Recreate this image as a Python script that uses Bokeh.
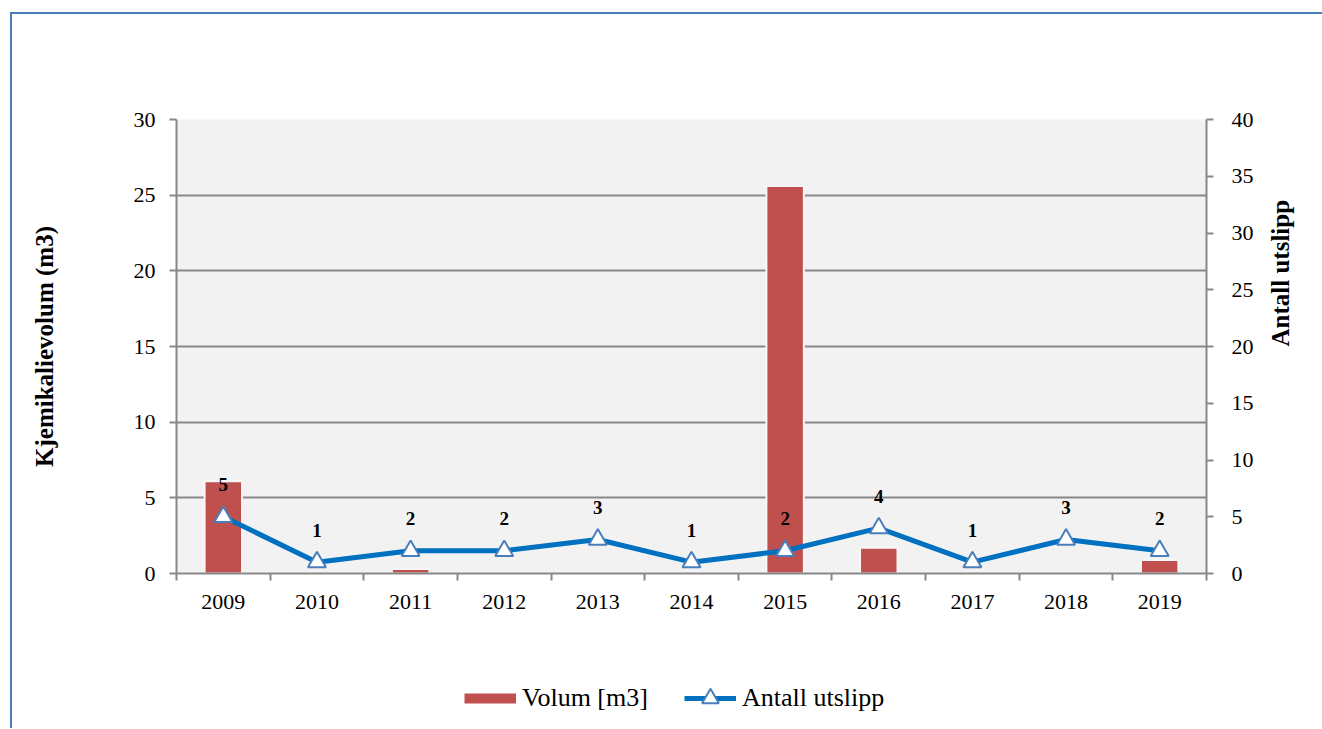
import math

from bokeh.plotting import figure
from bokeh.layouts import column
from bokeh.models import Range1d, LinearAxis, FixedTicker, Legend, LegendItem
from bokeh.core.properties import value
from bokeh.embed import file_html
from bokeh.resources import INLINE

# Chemical spill statistics per year
years = [2009, 2010, 2011, 2012, 2013, 2014, 2015, 2016, 2017, 2018, 2019]
volume_m3 = [6.1, 0, 0.3, 0, 0, 0, 25.6, 1.7, 0, 0, 0.9]
releases = [5, 1, 2, 2, 3, 1, 2, 4, 1, 3, 2]
volume_ticks = [0, 5, 10, 15, 20, 25, 30]
release_ticks = [0, 5, 10, 15, 20, 25, 30, 35, 40]

SERIF = "Liberation Serif"
AXIS_GRAY = "#888888"
BAR_RED = "#c0504d"
LINE_BLUE = "#0070c0"
MARK_BLUE = "#4a7ebb"

p = figure(width=1310, height=619, output_backend="svg", toolbar_location=None,
           x_range=Range1d(years[0] - 0.5, years[-1] + 0.5),
           y_range=Range1d(volume_ticks[0], volume_ticks[-1]),
           min_border_left=164, min_border_right=116,
           min_border_top=105, min_border_bottom=60,
           background_fill_color="#f2f2f2", border_fill_color="white",
           outline_line_color=None)
p.extra_y_ranges = {"count": Range1d(release_ticks[0], release_ticks[-1])}

# horizontal grid follows the left axis
p.xgrid.visible = False
p.ygrid.ticker = FixedTicker(ticks=volume_ticks)
p.ygrid.grid_line_color = AXIS_GRAY
p.ygrid.grid_line_width = 2

# bars for volume
p.vbar(x=years, top=volume_m3, width=0.4, fill_color=BAR_RED,
       line_color="#f7f7f7", line_width=2)

# line with triangle markers for number of releases
line_r = p.line(x=years, y=releases, y_range_name="count",
                line_color=LINE_BLUE, line_width=5)
mark_r = p.scatter(x=years, y=releases, y_range_name="count", marker="triangle",
                   size=18, fill_color="white", line_color=MARK_BLUE, line_width=2)
p.text(x=years, y=releases, text=[str(v) for v in releases], y_range_name="count",
       y_offset=-32, text_align="center", text_baseline="middle",
       text_font=value(SERIF), text_font_style="bold", text_font_size="19px",
       text_color="black")

# bottom axis: labels at the years, ticks between them
xa = p.xaxis[0]
xa.ticker = FixedTicker(ticks=years,
                        minor_ticks=[y - 0.5 for y in years] + [years[-1] + 0.5])
xa.major_tick_out = 0
xa.major_tick_in = 0
xa.minor_tick_out = 7
xa.minor_tick_in = 0
xa.minor_tick_line_color = AXIS_GRAY
xa.minor_tick_line_width = 2
xa.axis_line_color = AXIS_GRAY
xa.axis_line_width = 2
xa.major_label_standoff = 14
xa.major_label_text_font = SERIF
xa.major_label_text_font_size = "22px"
xa.major_label_text_color = "black"

ya = p.yaxis[0]
ya.ticker = FixedTicker(ticks=volume_ticks)
ya.axis_label = "Kjemikalievolum (m3)"

yb = LinearAxis(y_range_name="count", ticker=FixedTicker(ticks=release_ticks),
                axis_label="Antall utslipp")
p.add_layout(yb, "right")

for ax in (ya, yb):
    ax.major_tick_out = 7
    ax.major_tick_in = 0
    ax.minor_tick_out = 0
    ax.minor_tick_in = 0
    ax.major_tick_line_color = AXIS_GRAY
    ax.major_tick_line_width = 2
    ax.axis_line_color = AXIS_GRAY
    ax.axis_line_width = 2
    ax.major_label_text_font = SERIF
    ax.major_label_text_font_size = "22px"
    ax.major_label_text_color = "black"
    ax.axis_label_text_font = SERIF
    ax.axis_label_text_font_style = "bold"
    ax.axis_label_text_font_size = "25px"
    ax.axis_label_text_color = "black"

ya.major_label_standoff = 14
ya.axis_label_standoff = 73
yb.major_label_standoff = 18
yb.axis_label_standoff = 24
yb.axis_label_orientation = math.pi / 2

# legend strip under the chart; its key glyphs hold a single unplotted point
nan = float("nan")
leg = figure(width=1310, height=95, output_backend="svg", toolbar_location=None,
             x_range=Range1d(0, 1), y_range=Range1d(0, 1), min_border=0,
             outline_line_color=None, background_fill_color="white",
             border_fill_color="white")
leg.axis.visible = False
leg.grid.visible = False
vol_key = leg.line(x=[nan], y=[nan], line_color=BAR_RED, line_width=10)
cnt_line_key = leg.line(x=[nan], y=[nan], line_color=LINE_BLUE, line_width=5)
cnt_mark_key = leg.scatter(x=[nan], y=[nan], marker="triangle", fill_color="white",
                           line_color=MARK_BLUE, line_width=2)
legend = Legend(items=[LegendItem(label="Volum [m3]", renderers=[vol_key]),
                       LegendItem(label="Antall utslipp",
                                  renderers=[cnt_line_key, cnt_mark_key])],
                orientation="horizontal", location=(288, 9),
                glyph_width=52, glyph_height=42, label_standoff=6, spacing=36,
                padding=0, margin=0, border_line_color=None,
                background_fill_alpha=0, label_text_font=SERIF,
                label_text_font_size="26px", label_text_color="black")
leg.add_layout(legend, "center")

page = column(p, leg, margin=(12, 0, 0, 10),
              styles={"border-left": "2px solid #4a7ebb",
                      "border-top": "2px solid #4a7ebb"})

open("out.html", "w").write(file_html(page, INLINE))
